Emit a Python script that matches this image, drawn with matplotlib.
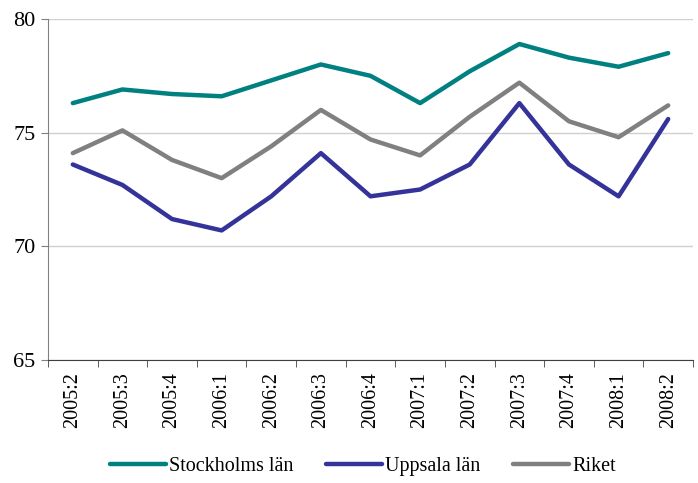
import numpy as np
import matplotlib.pyplot as plt

plt.rcParams['font.family'] = ['Liberation Serif', 'DejaVu Serif']

quarters = ['2005:2', '2005:3', '2005:4', '2006:1', '2006:2', '2006:3', '2006:4',
            '2007:1', '2007:2', '2007:3', '2007:4', '2008:1', '2008:2']
stockholm = [76.3, 76.9, 76.7, 76.6, 77.3, 78.0, 77.5, 76.3, 77.7, 78.9, 78.3, 77.9, 78.5]
uppsala = [73.6, 72.7, 71.2, 70.7, 72.2, 74.1, 72.2, 72.5, 73.6, 76.3, 73.6, 72.2, 75.6]
riket = [74.1, 75.1, 73.8, 73.0, 74.4, 76.0, 74.7, 74.0, 75.7, 77.2, 75.5, 74.8, 76.2]

fig = plt.figure(figsize=(6.98, 4.83), dpi=100)
ax = fig.add_axes([48/698, 1-360/483, 645/698, 341/483])

x = np.arange(len(quarters))
ax.plot(x, stockholm, color='#008080', lw=3.2, label='Stockholms län', solid_capstyle='round')
ax.plot(x, uppsala, color='#333399', lw=3.2, label='Uppsala län', solid_capstyle='round')
ax.plot(x, riket, color='#808080', lw=3.2, label='Riket', solid_capstyle='round')

ax.set_xlim(-0.5, len(quarters) - 0.5)
ax.set_ylim(65, 80)
ax.set_yticks([65, 70, 75, 80])
ax.yaxis.grid(True, color='#d0d0d0', lw=1)
ax.set_axisbelow(True)

ax.set_xticks(x)
ax.set_xticklabels(quarters, rotation=90, fontsize=14.5)
ax.tick_params(axis='x', which='major', length=0, pad=9)
ax.set_xticks(np.arange(-0.5, len(quarters)), minor=True)
ax.tick_params(axis='x', which='minor', length=5, color='#404040')
ax.tick_params(axis='y', labelsize=16, length=5, color='#808080', pad=4)

for s in ['top', 'right']:
    ax.spines[s].set_visible(False)
ax.spines['left'].set_color('#808080')
ax.spines['bottom'].set_color('#404040')

fig.legend(loc='center', bbox_to_anchor=(0.52, 1-466/483), ncol=3, frameon=False,
           fontsize=14.5, handlelength=2.8, columnspacing=1.6, handletextpad=0.15)

fig.savefig('out.png', dpi=100)
